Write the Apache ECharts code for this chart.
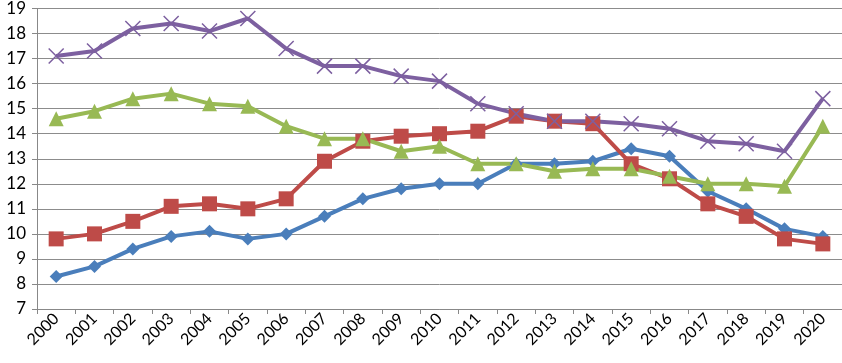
<!DOCTYPE html>
<html>
<head>
    <meta charset="utf-8" />
    <title>Line chart 2000-2020</title>
    <script src="https://cdn.jsdelivr.net/npm/echarts@6/dist/echarts.min.js"></script>
    <style>
        html, body { margin: 0; padding: 0; background: #ffffff; }
    </style>
</head>
<body>
<div id="main" style="width: 842px;height:363px;"></div>
<script type="text/javascript">
    // 年份
    var years = ['2000','2001','2002','2003','2004','2005','2006','2007','2008','2009','2010',
                 '2011','2012','2013','2014','2015','2016','2017','2018','2019','2020'];
    // 四条折线
    var blueVals   = [8.3, 8.7, 9.4, 9.9, 10.1, 9.8, 10.0, 10.7, 11.4, 11.8, 12.0,
                      12.0, 12.8, 12.8, 12.9, 13.4, 13.1, 11.7, 11.0, 10.2, 9.9];
    var redVals    = [9.8, 10.0, 10.5, 11.1, 11.2, 11.0, 11.4, 12.9, 13.7, 13.9, 14.0,
                      14.1, 14.7, 14.5, 14.4, 12.8, 12.2, 11.2, 10.7, 9.8, 9.6];
    var greenVals  = [14.6, 14.9, 15.4, 15.6, 15.2, 15.1, 14.3, 13.8, 13.8, 13.3, 13.5,
                      12.8, 12.8, 12.5, 12.6, 12.6, 12.3, 12.0, 12.0, 11.9, 14.3];
    var purpleVals = [17.1, 17.3, 18.2, 18.4, 18.1, 18.6, 17.4, 16.7, 16.7, 16.3, 16.1,
                      15.2, 14.8, 14.5, 14.5, 14.4, 14.2, 13.7, 13.6, 13.3, 15.4];

    var myChart = echarts.init(document.getElementById('main'), null, {renderer: 'canvas'});
    var font = 'Lato';

    function lineSeries(data, color, symbol, size, extra) {
        var s = {
            type: 'line',
            data: data,
            symbol: symbol,
            symbolSize: size,
            showAllSymbol: true,
            lineStyle: { color: color, width: 4 },
            itemStyle: { color: color },
            emphasis: { disabled: true },
            z: 2
        };
        if (extra) Object.assign(s.itemStyle, extra);
        return s;
    }

    var option = {
        backgroundColor: '#ffffff',
        animation: false,
        grid: { left: 37, right: 0, top: 6, bottom: 54 },
        xAxis: {
            type: 'category',
            data: years,
            boundaryGap: true,
            axisLine: { lineStyle: { color: '#888888', width: 1 } },
            axisTick: { show: true, length: 5, lineStyle: { color: '#888888' } },
            axisLabel: {
                rotate: 45, color: '#000000', fontSize: 16, fontFamily: font, margin: 7, interval: 0
            }
        },
        yAxis: {
            type: 'value',
            min: 7, max: 19, interval: 1,
            axisLine: { show: true, lineStyle: { color: '#888888', width: 1 } },
            axisTick: { show: true, length: 5, lineStyle: { color: '#888888' } },
            axisLabel: { color: '#000000', fontSize: 17, fontFamily: font, margin: 11 },
            splitLine: { lineStyle: { color: '#8c8c8c', width: 1 } }
        },
        series: [
            lineSeries(blueVals, '#4a7ebb', 'diamond', 13),
            lineSeries(redVals, '#be4b48', 'rect', 15),
            lineSeries(greenVals, '#98b954', 'triangle', 15),
            lineSeries(purpleVals, '#7d60a0', 'path://M0,0L10,10M10,0L0,10', 15,
                { borderColor: '#7d60a0', borderWidth: 1.5 })
        ]
    };
    myChart.setOption(option);
</script>
</body>
</html>
